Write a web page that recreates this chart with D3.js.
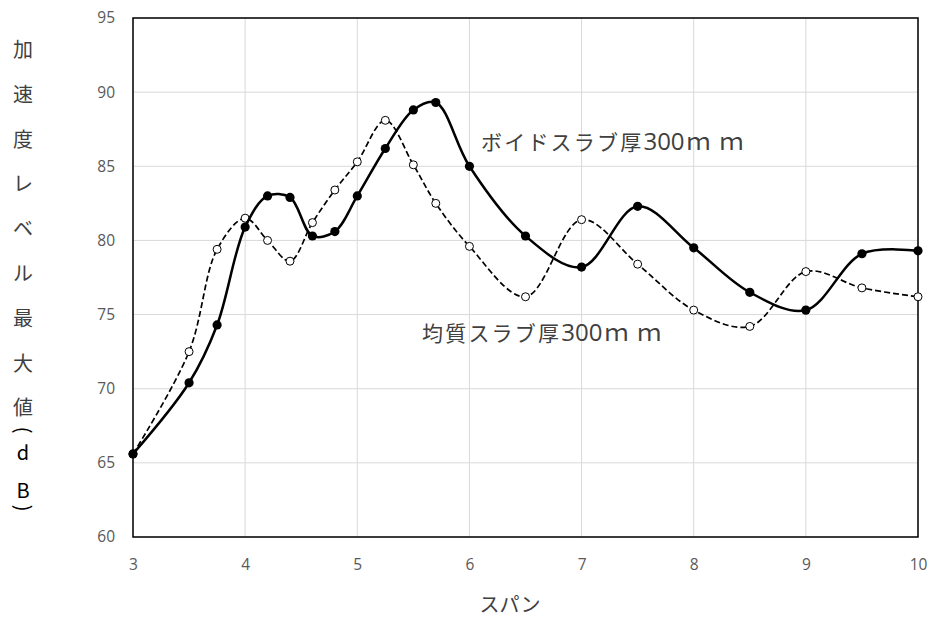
<!DOCTYPE html>
<html><head><meta charset="utf-8">
<script src="https://cdn.jsdelivr.net/npm/d3@7"></script>
<style>
body{margin:0;background:#fff;}
svg{display:block;}
</style></head>
<body>
<svg id="c" width="931" height="619"></svg>
<script>
const spans = [3, 3.5, 3.75, 4, 4.2, 4.4, 4.6, 4.8, 5, 5.25, 5.5, 5.7, 6, 6.5, 7, 7.5, 8, 8.5, 9, 9.5, 10];
const voidSlab = [65.6, 70.4, 74.3, 80.9, 83.0, 82.9, 80.3, 80.6, 83.0, 86.2, 88.8, 89.3, 85.0, 80.3, 78.2, 82.3, 79.5, 76.5, 75.3, 79.1, 79.3];
const solidSlab = [65.6, 72.5, 79.4, 81.5, 80.0, 78.6, 81.2, 83.4, 85.3, 88.1, 85.1, 82.5, 79.6, 76.2, 81.4, 78.4, 75.3, 74.2, 77.9, 76.8, 76.2];
const xTicks = [3, 4, 5, 6, 7, 8, 9, 10];
const yTicks = [60, 65, 70, 75, 80, 85, 90, 95];
const yTitleChars = ["加","速","度","レ","ベ","ル","最","大","値"];
const yTitleUnit = ["d","B"];
const voidLabel = ["ボイドスラブ厚", "300", "ｍｍ"];
const solidLabel = ["均質スラブ厚", "300", "ｍｍ"];
const xTitle = "スパン";

const svg = d3.select("#c");
const L = 133, R = 918, T = 18, B = 537;
const x = d3.scaleLinear().domain([3, 10]).range([L, R]);
const y = d3.scaleLinear().domain([60, 95]).range([B, T]);
const tickFont = "'Open Sans','Liberation Sans',sans-serif";
const jpFont = "'Noto Sans CJK JP',sans-serif";

// gridlines
svg.append("g").selectAll("line").data(yTicks).join("line")
  .attr("x1", L).attr("x2", R).attr("y1", d => y(d)).attr("y2", d => y(d))
  .attr("stroke", "#d9d9d9").attr("stroke-width", 1);
svg.append("g").selectAll("line").data(xTicks).join("line")
  .attr("y1", T).attr("y2", B).attr("x1", d => x(d)).attr("x2", d => x(d))
  .attr("stroke", "#d9d9d9").attr("stroke-width", 1);

// axes (labels only)
const ax = svg.append("g").attr("transform", `translate(0,${B})`)
  .call(d3.axisBottom(x).tickValues(xTicks).tickSize(0).tickPadding(22).tickFormat(d3.format("d")));
const ay = svg.append("g").attr("transform", `translate(${L},0)`)
  .call(d3.axisLeft(y).tickValues(yTicks).tickSize(0).tickPadding(18).tickFormat(d3.format("d")));
[ax, ay].forEach(a => {
  a.select(".domain").remove();
  a.selectAll("text").attr("fill", "#595959").attr("font-size", 15.5).attr("font-family", tickFont);
});

// frame
svg.append("rect").attr("x", L).attr("y", T).attr("width", R - L).attr("height", B - T)
  .attr("fill", "none").attr("stroke", "#000").attr("stroke-width", 1.5);

const line = d3.line().x((d, i) => x(spans[i])).y(d => y(d)).curve(d3.curveCatmullRom.alpha(0.5));

// solid slab (dashed, open markers)
svg.append("path").datum(solidSlab).attr("d", line)
  .attr("fill", "none").attr("stroke", "#000").attr("stroke-width", 1.7).attr("stroke-dasharray", "6,3");
svg.append("g").selectAll("circle").data(solidSlab).join("circle")
  .attr("cx", (d, i) => x(spans[i])).attr("cy", d => y(d)).attr("r", 4)
  .attr("fill", "#fff").attr("stroke", "#000").attr("stroke-width", 1);

// void slab (solid line, filled markers)
svg.append("path").datum(voidSlab).attr("d", line)
  .attr("fill", "none").attr("stroke", "#000").attr("stroke-width", 2.5);
svg.append("g").selectAll("circle").data(voidSlab).join("circle")
  .attr("cx", (d, i) => x(spans[i])).attr("cy", d => y(d)).attr("r", 4.6)
  .attr("fill", "#000");

// series labels
function seriesLabel(parts, lx, ly) {
  const t = svg.append("text").attr("x", lx).attr("y", ly)
    .attr("font-family", jpFont).attr("font-size", 21).attr("fill", "#404040");
  t.append("tspan").text(parts[0]).attr("letter-spacing", 2.2);
  t.append("tspan").text(parts[1]).attr("font-size", 24).attr("font-family", tickFont);
  t.append("tspan").text(parts[2]).attr("font-size", 24).attr("letter-spacing", 9).attr("dx", 2);
}
seriesLabel(voidLabel, 481, 150);
seriesLabel(solidLabel, 422, 341);

// x title
svg.append("text").attr("x", 510).attr("y", 612).attr("text-anchor", "middle").text(xTitle)
  .attr("font-family", jpFont).attr("font-size", 20).attr("fill", "#404040");

// y title, vertical stacked
const yt = svg.append("g").attr("font-family", jpFont).attr("font-size", 20).attr("fill", "#404040").attr("text-anchor", "middle");
yTitleChars.forEach((c, i) => {
  yt.append("text").attr("x", 23).attr("y", 50 + i * 44.8).attr("dy", "0.35em").text(c);
});
yt.append("text").attr("transform", "translate(23,430) rotate(90)").attr("dy", "0.35em").text("(").attr("fill", "#000");
yTitleUnit.forEach((c, i) => {
  yt.append("text").attr("x", 23).attr("y", 453 + i * 38).attr("dy", "0.35em").text(c).attr("fill", "#000");
});
yt.append("text").attr("transform", "translate(23,508) rotate(90)").attr("dy", "0.35em").text(")").attr("fill", "#000");
</script>
</body></html>
